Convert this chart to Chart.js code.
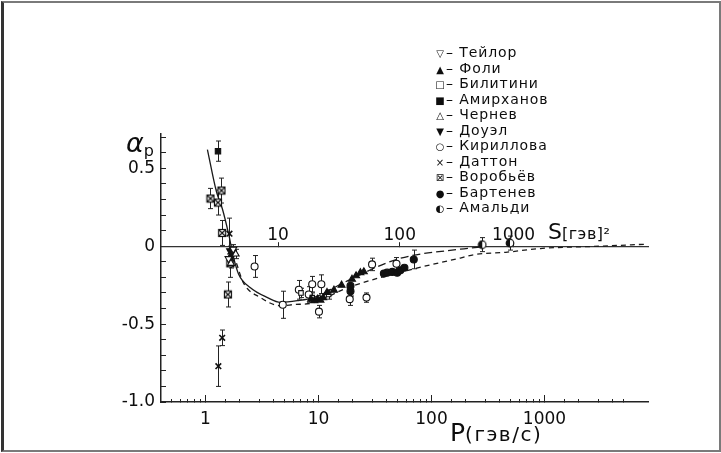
<!DOCTYPE html>
<html><head><meta charset="utf-8">
<script src="https://cdn.jsdelivr.net/npm/chart.js@4.4.1/dist/chart.umd.min.js"></script>
<style>
html,body{margin:0;padding:0;background:#fff;}
#wrap{position:relative;width:721px;height:453px;overflow:hidden;font-family:"DejaVu Sans",sans-serif;color:#0d0d0d;}
#c{position:absolute;left:0;top:0;}
#frame{position:absolute;left:1px;top:1px;width:715px;height:447px;border:2px solid #7a7a7a;border-left:3px solid #333;pointer-events:none;}
#legend{position:absolute;left:434px;top:45px;}
.row{height:15.5px;line-height:15.5px;white-space:nowrap;font-size:14px;letter-spacing:0.9px;}
.sym{display:inline-block;width:12px;text-align:center;font-size:10px;letter-spacing:0;}
.lbl{position:absolute;white-space:nowrap;line-height:1;}
</style></head>
<body>
<div id="wrap">
<canvas id="c" width="721" height="453"></canvas>
<div id="legend"></div>
<div class="lbl" style="left:126px;top:129px;font-size:27px;font-style:italic;">α<span style="font-size:16px;position:relative;top:4px;font-style:normal;">p</span></div>
<div class="lbl" style="left:548px;top:221px;font-size:22px;">S<span style="font-size:16px;letter-spacing:0.5px;">[гэв]²</span></div>
<div class="lbl" style="left:450px;top:420px;font-size:25px;">P<span style="font-size:20px;letter-spacing:1.5px;">(гэв/с)</span></div>
<div id="frame"></div>
</div>
<script>
// ---- data (P in GeV/c, alpha_p, error) ----
const seriesNames = ['Тейлор','Фоли','Билитини','Амирханов','Чернев','Доуэл','Кириллова','Даттон','Воробьёв','Бартенев','Амальди'];
const seriesGlyphs = ['▽','▲','□','■','△','▼','○','×','⊠','●','◐'];

const taylorP = [1.60, 1.76];
const taylorA = [-0.08, -0.02];
const taylorE = [0.03, 0.03];

const foleyP = [8.6, 9.2, 9.8, 10.4, 11.0, 11.9, 13.7, 16.0, 19.8, 21.5, 23.5, 25.2];
const foleyA = [-0.34, -0.35, -0.34, -0.346, -0.33, -0.297, -0.282, -0.25, -0.212, -0.19, -0.17, -0.164];
const foleyE = [0, 0, 0, 0, 0, 0, 0, 0, 0, 0, 0, 0];

const bilitiniP = [7.0, 8.8, 12.3];
const bilitiniA = [-0.30, -0.33, -0.31];
const bilitiniE = [0.03, 0.03, 0.03];

const amirkhanovP = [1.29];
const amirkhanovA = [0.61];
const amirkhanovE = [0.065];

const chernevP = [1.68, 1.85];
const chernevA = [-0.11, -0.05];
const chernevE = [0.03, 0.03];

const dowellP = [1.65, 1.72];
const dowellA = [-0.03, -0.06];
const dowellE = [0.03, 0.03];

const kirillovaP = [2.72, 4.83, 6.7, 8.2, 8.8, 10.6, 10.1, 18.9, 26.6, 29.8, 49.0];
const kirillovaA = [-0.13, -0.376, -0.28, -0.31, -0.244, -0.244, -0.42, -0.34, -0.33, -0.117, -0.113];
const kirillovaE = [0.07, 0.087, 0.06, 0.05, 0.05, 0.06, 0.04, 0.04, 0.03, 0.04, 0.04];

const duttonP = [1.30, 1.405, 1.63];
const duttonA = [-0.77, -0.588, 0.08];
const duttonE = [0.13, 0.05, 0.10];

const vorobyovP = [1.107, 1.29, 1.385, 1.405, 1.66, 1.58];
const vorobyovA = [0.306, 0.28, 0.357, 0.085, -0.11, -0.31];
const vorobyovE = [0.065, 0.08, 0.08, 0.08, 0.09, 0.08];

const bartenevP = [19.2, 19.2, 37.9, 40.5, 45.0, 49.7, 53.0, 57.6, 69.7];
const bartenevA = [-0.255, -0.29, -0.176, -0.17, -0.165, -0.17, -0.155, -0.138, -0.085];
const bartenevE = [0, 0.03, 0, 0, 0, 0, 0, 0, 0.06];

const amaldiP = [281, 495];
const amaldiA = [0.01, 0.02];
const amaldiE = [0.045, 0.045];

// theoretical curves
const curveAP = [1.04, 1.25, 1.41, 1.6, 1.77, 1.96, 2.5, 3.54, 4.6, 6.5, 9.0, 18, 50, 180, 280];
const curveAA = [0.62, 0.35, 0.24, 0.08, -0.07, -0.178, -0.267, -0.33, -0.36, -0.35, -0.33, -0.223, -0.083, -0.019, -0.005];
const curveBP = [1.88, 2.17, 3.07, 4.6, 6.0, 9.0, 18, 69.5, 180, 235, 470, 920, 3100, 8000];
const curveBA = [-0.11, -0.236, -0.33, -0.382, -0.375, -0.363, -0.267, -0.146, -0.076, -0.055, -0.038, -0.015, 0.0, 0.013];

// axis ticks
const pDecadeTicks = [1, 10, 100, 1000];
const sTicks = [10, 100, 1000];
const yLabelTicks = [-1.0, -0.5, 0, 0.5];
const yLabelText = ['-1.0', '-0.5', '0', '0.5'];

// ---- helpers ----
const FONT = '"DejaVu Sans", sans-serif';
const X_MIN = 0.404, X_MAX = 8240;
const MP = 0.938;
const pOfS = s => (s - 2 * MP * MP) / (2 * MP);
const pts = (P, A) => P.map((p, i) => ({x: p, y: A[i]}));

function symCanvas(kind) {
  const c = document.createElement('canvas');
  c.width = 10; c.height = 10;
  const g = c.getContext('2d');
  g.strokeStyle = '#111'; g.fillStyle = '#111'; g.lineWidth = 1.2;
  if (kind === 'boxx') {
    g.fillStyle = '#fff'; g.fillRect(1, 1, 8, 8);
    g.strokeRect(1.5, 1.5, 7, 7);
    g.beginPath(); g.moveTo(1.5, 1.5); g.lineTo(8.5, 8.5); g.moveTo(8.5, 1.5); g.lineTo(1.5, 8.5); g.stroke();
  } else {
    g.fillStyle = '#fff'; g.beginPath(); g.arc(5, 5, 3.8, 0, Math.PI * 2); g.fill();
    g.fillStyle = '#111'; g.beginPath(); g.moveTo(5, 1.2); g.arc(5, 5, 3.8, -Math.PI / 2, Math.PI / 2, true); g.closePath(); g.fill();
    g.beginPath(); g.arc(5, 5, 3.8, 0, Math.PI * 2); g.stroke();
  }
  return c;
}

const BLACK = '#111', WHITE = '#fff';
function series(i, P, A, E, style) {
  return Object.assign({
    label: seriesNames[i], data: pts(P, A), errorBars: E,
    borderColor: BLACK, backgroundColor: BLACK, borderWidth: 1.1,
    pointRadius: 3.5, pointHoverRadius: 3.5, showLine: false
  }, style);
}

const datasets = [
  series(0, taylorP, taylorA, taylorE, {pointStyle: 'triangle', rotation: 180, backgroundColor: WHITE, pointRadius: 4}),
  series(1, foleyP, foleyA, foleyE, {pointStyle: 'triangle', pointRadius: 4}),
  series(2, bilitiniP, bilitiniA, bilitiniE, {pointStyle: 'rect', backgroundColor: WHITE, pointRadius: 3.2}),
  series(3, amirkhanovP, amirkhanovA, amirkhanovE, {pointStyle: 'rect', pointRadius: 3.8}),
  series(4, chernevP, chernevA, chernevE, {pointStyle: 'triangle', backgroundColor: WHITE, pointRadius: 4}),
  series(5, dowellP, dowellA, dowellE, {pointStyle: 'triangle', rotation: 180, pointRadius: 4}),
  series(6, kirillovaP, kirillovaA, kirillovaE, {pointStyle: 'circle', backgroundColor: WHITE, pointRadius: 3.5}),
  series(7, duttonP, duttonA, duttonE, {pointStyle: 'crossRot', pointRadius: 4, borderWidth: 1.6}),
  series(8, vorobyovP, vorobyovA, vorobyovE, {pointStyle: symCanvas('boxx')}),
  series(9, bartenevP, bartenevA, bartenevE, {pointStyle: 'circle', pointRadius: 3.5}),
  series(10, amaldiP, amaldiA, amaldiE, {pointStyle: symCanvas('half')}),
  {
    label: 'curveA', data: pts(curveAP, curveAA), showLine: true, pointRadius: 0,
    borderColor: '#1a1a1a', borderWidth: 1.3, cubicInterpolationMode: 'monotone', fill: false,
    segment: {borderDash: ctx => ctx.p0.parsed.x >= 9 ? [8, 4] : undefined}
  },
  {
    label: 'curveB', data: pts(curveBP, curveBA), showLine: true, pointRadius: 0,
    borderColor: '#1a1a1a', borderWidth: 1.3, borderDash: [5, 4], cubicInterpolationMode: 'monotone', fill: false
  }
];

const errorBarPlugin = {
  id: 'errorBars',
  beforeDatasetsDraw(chart) {
    const {ctx, scales: {x, y}} = chart;
    ctx.save();
    ctx.strokeStyle = '#222'; ctx.lineWidth = 1;
    chart.data.datasets.forEach(ds => {
      if (!ds.errorBars) return;
      ds.data.forEach((pt, i) => {
        const e = ds.errorBars[i];
        if (!e) return;
        const px = Math.round(x.getPixelForValue(pt.x)) + 0.5;
        const y1 = y.getPixelForValue(pt.y + e), y2 = y.getPixelForValue(pt.y - e);
        ctx.beginPath();
        ctx.moveTo(px, y1); ctx.lineTo(px, y2);
        ctx.moveTo(px - 2.5, y1); ctx.lineTo(px + 2.5, y1);
        ctx.moveTo(px - 2.5, y2); ctx.lineTo(px + 2.5, y2);
        ctx.stroke();
      });
    });
    ctx.restore();
  }
};

const isDecade = v => { const l = Math.log10(v); return v >= 1 && Math.abs(l - Math.round(l)) < 1e-9; };

new Chart(document.getElementById('c'), {
  type: 'scatter',
  data: {datasets},
  plugins: [errorBarPlugin],
  options: {
    responsive: false, animation: false, events: [],
    layout: {padding: {top: 134, right: 73, left: 0, bottom: 0}},
    plugins: {legend: {display: false}, tooltip: {enabled: false}},
    scales: {
      x: {
        type: 'logarithmic', position: 'bottom', min: X_MIN, max: X_MAX,
        border: {display: true, color: '#222', width: 1.5},
        grid: {display: true, drawOnChartArea: false, drawTicks: true, tickLength: -3, tickWidth: 1,
          tickColor: ctx => (ctx.tick && (ctx.tick.value > 5500 || ctx.tick.value < 0.45)) ? 'rgba(0,0,0,0)' : '#222'},
        ticks: {autoSkip: false, maxRotation: 0, padding: 10, color: '#0d0d0d', font: {size: 17, family: FONT},
          callback: v => isDecade(v) ? String(v) : ''},
        afterFit: s => { s.height = 51; }
      },
      xMaj: {
        type: 'logarithmic', axis: 'x', position: {y: -1}, min: X_MIN, max: X_MAX,
        afterBuildTicks: s => { s.ticks = pDecadeTicks.map(v => ({value: v})); },
        border: {display: false},
        grid: {display: true, drawOnChartArea: false, drawTicks: true, tickLength: -7, tickColor: '#222', tickWidth: 1},
        ticks: {display: false}
      },
      xS: {
        type: 'logarithmic', axis: 'x', position: {y: 0}, min: X_MIN, max: X_MAX,
        afterBuildTicks: s => { s.ticks = sTicks.map(v => ({value: pOfS(v)})); },
        border: {display: true, color: '#333', width: 1.2},
        grid: {display: true, drawOnChartArea: false, drawTicks: true, tickLength: -5, tickColor: '#222', tickWidth: 1},
        ticks: {autoSkip: false, maxRotation: 0, padding: -16, color: '#0d0d0d', font: {size: 17, family: FONT},
          callback: (v, i) => String(sTicks[i])}
      },
      y: {
        type: 'linear', position: 'left', min: -1.0, max: 0.72,
        border: {display: true, color: '#222', width: 1.5},
        grid: {display: true, drawOnChartArea: false, drawTicks: true, tickLength: -5, tickColor: '#222', tickWidth: 1},
        ticks: {stepSize: 0.1, includeBounds: false, autoSkip: false, padding: 11, color: '#0d0d0d',
          font: {size: 17, family: FONT},
          callback: v => { const k = yLabelTicks.findIndex(t => Math.abs(t - v) < 1e-6); return k >= 0 ? yLabelText[k] : ''; }},
        afterFit: s => { s.width = 161; }
      }
    }
  }
});

// legend built from the series lists
const lg = document.getElementById('legend');
seriesNames.forEach((n, i) => {
  const r = document.createElement('div');
  r.className = 'row';
  r.innerHTML = '<span class="sym">' + seriesGlyphs[i] + '</span>– ' + n;
  lg.appendChild(r);
});
</script>
</body></html>
